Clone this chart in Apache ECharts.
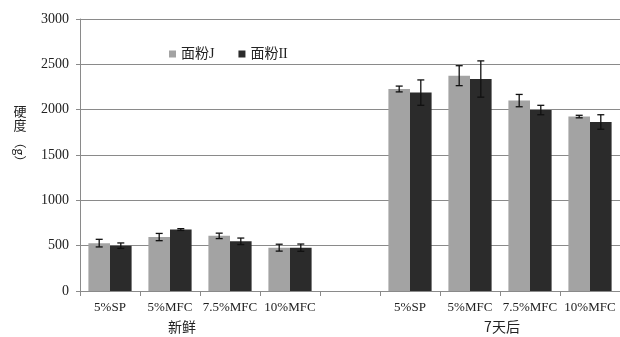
<!DOCTYPE html>
<html>
<head>
<meta charset="utf-8">
<script src="https://cdn.jsdelivr.net/npm/echarts@6/dist/echarts.min.js"></script>
<style>
  html, body { margin: 0; padding: 0; background: #ffffff; }
  #chart { width: 620px; height: 337px; }
</style>
</head>
<body>
<div id="chart"></div>
<script>
// Treatments, with an empty slot separating the two storage groups
const categories = ['5%SP', '5%MFC', '7.5%MFC', '10%MFC', '', '5%SP', '5%MFC', '7.5%MFC', '10%MFC'];
const groupLabels = ['新鲜', '7天后'];
const seriesNames = ['面粉J', '面粉II'];

// Hardness means (g)
const flourJ  = [528, 595, 608, 478, null, 2228, 2375, 2100, 1924];
const flourII = [500, 678, 548, 478, null, 2188, 2338, 1996, 1864];

// Standard deviations (g)
const flourJErr  = [42, 40, 30, 38, null, 32, 110, 68, 14];
const flourIIErr = [30, 10, 36, 40, null, 140, 200, 52, 80];

const yTicks = { min: 0, max: 3000, interval: 500 };

const GRAY = '#a3a3a3';
const DARK = '#2b2b2b';
const FONT = '"Liberation Serif", "Noto Sans CJK SC", serif';
const CJK_FONT = '"Noto Sans CJK SC", serif';
const GAP = 0.28;

function toBar(vals) {
  return vals.map(v => (v === null ? '-' : v));
}
function toErr(vals, errs) {
  const out = [];
  vals.forEach((v, i) => { if (v !== null) out.push([i, v, errs[i]]); });
  return out;
}

// Error bar drawn at the centre of one of the two side-by-side bars
function errorRenderer(side) {
  return function (params, api) {
    const idx = api.value(0);
    const mean = api.value(1);
    const err = api.value(2);
    const catW = api.size([1, 0])[0];
    const barW = catW * (1 - GAP) / 2;
    const base = api.coord([idx, mean]);
    const x = base[0] + side * barW / 2;
    const top = api.coord([idx, mean + err])[1];
    const bot = api.coord([idx, mean - err])[1];
    const cap = 3.5;
    const style = { stroke: '#111', lineWidth: 1.3 };
    return {
      type: 'group',
      children: [
        { type: 'line', shape: { x1: x, y1: top, x2: x, y2: bot }, style },
        { type: 'line', shape: { x1: x - cap, y1: top, x2: x + cap, y2: top }, style },
        { type: 'line', shape: { x1: x - cap, y1: bot, x2: x + cap, y2: bot }, style }
      ]
    };
  };
}

const chart = echarts.init(document.getElementById('chart'), null, { renderer: 'canvas' });

chart.setOption({
  animation: false,
  backgroundColor: '#ffffff',
  textStyle: { fontFamily: FONT },
  grid: { left: 80, right: -2, top: 19, bottom: 46 },
  legend: {
    left: 164,
    top: 42,
    itemWidth: 7,
    itemHeight: 7,
    itemGap: 24,
    icon: 'rect',
    data: seriesNames,
    textStyle: { fontFamily: FONT, fontSize: 14, color: '#222' }
  },
  xAxis: {
    type: 'category',
    data: categories,
    axisLine: { lineStyle: { color: '#8a8a8a', width: 1 } },
    axisTick: { show: true, length: 5, interval: 0, lineStyle: { color: '#8a8a8a' } },
    axisLabel: { interval: 0, margin: 10, fontFamily: FONT, fontSize: 13, color: '#222' }
  },
  yAxis: {
    type: 'value',
    min: yTicks.min,
    max: yTicks.max,
    interval: yTicks.interval,
    axisLine: { show: true, lineStyle: { color: '#8a8a8a', width: 1 } },
    axisTick: { show: true, length: 4, lineStyle: { color: '#8a8a8a' } },
    axisLabel: {
      margin: 11,
      fontFamily: FONT,
      fontSize: 14,
      color: '#222',
      formatter: v => String(v)
    },
    splitLine: { lineStyle: { color: '#8a8a8a', width: 1 } }
  },
  series: [
    {
      name: seriesNames[0],
      type: 'bar',
      data: toBar(flourJ),
      itemStyle: { color: GRAY },
      barGap: '0%',
      barCategoryGap: (GAP * 100) + '%'
    },
    {
      name: seriesNames[1],
      type: 'bar',
      data: toBar(flourII),
      itemStyle: { color: DARK },
      barGap: '0%',
      barCategoryGap: (GAP * 100) + '%'
    },
    {
      type: 'custom',
      renderItem: errorRenderer(-1),
      data: toErr(flourJ, flourJErr),
      encode: { x: 0, y: 1 },
      z: 5
    },
    {
      type: 'custom',
      renderItem: errorRenderer(1),
      data: toErr(flourII, flourIIErr),
      encode: { x: 0, y: 1 },
      z: 5
    }
  ],
  graphic: [
    {
      type: 'text',
      x: 20,
      y: 118,
      style: {
        text: '硬\n度', font: '13px ' + CJK_FONT, fill: '#222',
        lineHeight: 14, align: 'center', verticalAlign: 'middle'
      }
    },
    {
      type: 'text',
      x: 20,
      y: 152,
      rotation: -Math.PI / 2,
      style: { text: '（g）', font: '12px ' + CJK_FONT, fill: '#222', align: 'center', verticalAlign: 'middle' }
    },
    {
      type: 'text',
      x: 182,
      y: 327,
      style: { text: groupLabels[0], font: '14px ' + CJK_FONT, fill: '#222', align: 'center', verticalAlign: 'middle' }
    },
    {
      type: 'text',
      x: 502,
      y: 327,
      style: { text: groupLabels[1], font: '14px ' + CJK_FONT, fill: '#222', align: 'center', verticalAlign: 'middle' }
    }
  ]
});
</script>
</body>
</html>
